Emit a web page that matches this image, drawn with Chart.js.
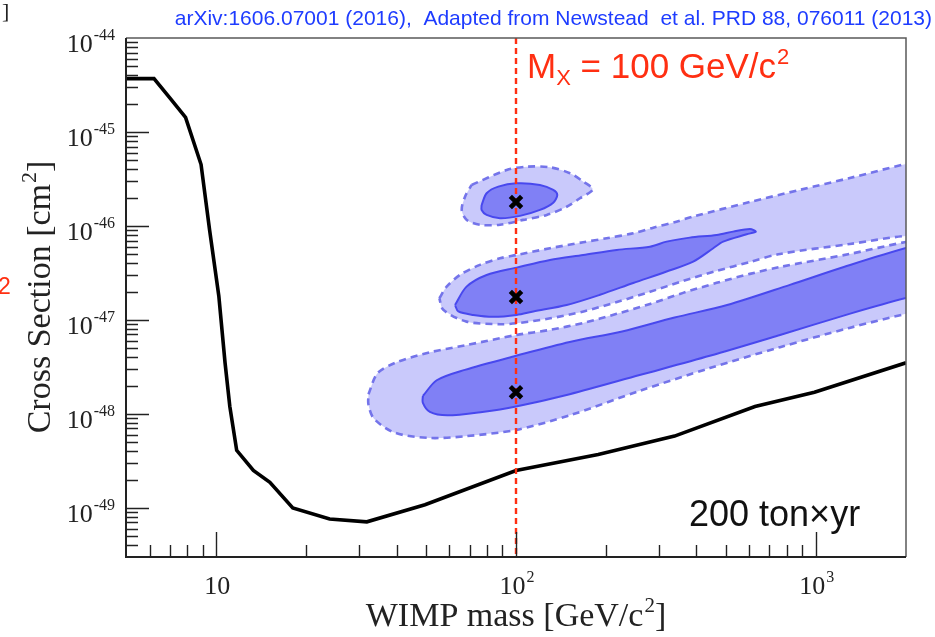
<!DOCTYPE html>
<html>
<head>
<meta charset="utf-8">
<script src="https://cdn.jsdelivr.net/npm/chart.js@4/dist/chart.umd.min.js"></script>
<style>
  html, body { margin: 0; padding: 0; background: #ffffff; }
  canvas { display: block; }
</style>
</head>
<body>
<canvas id="plot" width="935" height="637"></canvas>
<script>
// ---- Exclusion limit (black curve), WIMP mass [GeV/c^2] vs cross section [cm^2]
const limitMass  = [5, 6.2, 7.0, 7.9, 8.9, 9.5, 10.2, 10.7, 11.1, 11.7, 13.3, 15.1, 18.0, 23.9, 31.8, 49.7, 100, 188, 338, 627, 990, 2000];
const limitSigma = [3.7e-45, 3.7e-45, 2.3e-45, 1.43e-45, 4.5e-46, 9.1e-47, 1.8e-47, 3.5e-48, 1.2e-48, 4.1e-49, 2.5e-49, 1.87e-49, 1.0e-49, 7.6e-50, 7.1e-50, 1.08e-49, 2.5e-49, 3.7e-49, 5.8e-49, 1.2e-48, 1.7e-48, 3.5e-48];

// ---- Benchmark points (M_X = 100 GeV/c^2)
const benchMass  = [100, 100, 100];
const benchSigma = [1.8e-46, 1.75e-47, 1.7e-48];
const markerMass = 100;

// ---- Reconstructed regions: [mass, sigma] outlines (outer = dashed, inner = solid)
const highOuter = [[71.1,2.73e-46],[93.1,3.94e-46],[108.5,4.27e-46],[129.8,4.21e-46],[151.4,3.64e-46],[167.7,2.96e-46],[180.2,2.45e-46],[163.4,1.97e-46],[147.6,1.60e-46],[126.6,1.31e-46],[105.7,1.16e-46],[88.4,1.03e-46],[75.8,1.03e-46],[68.5,1.16e-46],[65.9,1.48e-46],[67.6,2.05e-46]];
const highInner = [[76.8,1.67e-46],[79.8,2.23e-46],[87.3,2.62e-46],[100.5,2.84e-46],[120.2,2.73e-46],[133.1,2.42e-46],[137.3,2.14e-46],[133.1,1.77e-46],[120.2,1.48e-46],[103.1,1.28e-46],[88.4,1.21e-46],[79.8,1.31e-46],[76.8,1.48e-46]];

const midOuter = [[55.5,1.70e-47],[58.7,2.26e-47],[65.0,3.01e-47],[75.8,3.85e-47],[88.4,4.53e-47],[100.5,4.91e-47],[129.8,5.79e-47],[167.6,6.71e-47],[200.6,7.40e-47],[246,8.36e-47],[287,9.59e-47],[343,1.11e-46],[390,1.26e-46],[603,1.8e-46],[885,2.42e-46],[1300,3.24e-46],[2000,4.57e-46],[2300,4.9e-46],
  [2300,7.5e-47],[2000,7.83e-47],[1300,6.43e-47],[760,5.04e-47],[603,4.14e-47],[467,3.32e-47],[361,2.60e-47],[280,1.99e-47],[217,1.55e-47],[168,1.23e-47],[130,1.04e-47],[100.5,9.22e-48],[88.4,9.0e-48],[68.4,9.59e-48],[57.2,1.28e-47]];
const midInner = [[62.6,1.44e-47],[68.4,2.26e-47],[79.8,3.01e-47],[100.5,3.60e-47],[129.8,4.35e-47],[167.6,4.91e-47],[216.7,5.56e-47],[279.8,6.02e-47],[318,6.81e-47],[380,7.51e-47],[467,8.02e-47],[530,8.70e-47],[603,9.29e-47],[631,8.70e-47],[588,8.16e-47],[491,6.81e-47],[455,5.79e-47],[390,4.17e-47],[318,3.27e-47],[246,2.47e-47],[190.6,1.85e-47],[147.6,1.44e-47],[114.2,1.23e-47],[100.5,1.13e-47],[84.0,1.08e-47],[72.0,1.13e-47],[64.2,1.23e-47]];

const lowOuter = [[32.2,1.62e-48],[34.5,2.70e-48],[39.5,3.49e-48],[51.6,4.52e-48],[67.5,5.35e-48],[100.5,6.92e-48],[129.8,7.83e-48],[167.6,9.29e-48],[216.7,1.16e-47],[280,1.48e-47],[361,1.94e-47],[467,2.48e-47],[603,3.09e-47],[760,3.66e-47],[1300,5.04e-47],[2000,6.76e-47],[2300,7.1e-47],
  [2300,1.25e-47],[2000,1.16e-47],[1295,8.22e-48],[760,5.13e-48],[443,3.07e-48],[258.5,1.76e-48],[151.1,9.66e-49],[100,6.76e-49],[67.5,5.78e-49],[51.6,5.54e-49],[39.5,6.29e-49],[33.6,8.87e-49],[32.2,1.25e-48]];
const lowInner = [[48.9,1.55e-48],[54.4,2.28e-48],[67.5,2.94e-48],[100,4.15e-48],[151.1,5.83e-48],[226,7.54e-48],[338,1.06e-47],[506,1.44e-47],[820,2.36e-47],[1240,3.66e-47],[2000,5.83e-47],[2300,6.2e-47],
  [2300,1.85e-47],[2000,1.71e-47],[1295,1.16e-47],[760,6.92e-48],[443,4.15e-48],[258.5,2.59e-48],[151.1,1.62e-48],[100,1.20e-48],[77.2,1.05e-48],[59.0,9.66e-49],[51.6,1.05e-48],[48.9,1.31e-48]];

// ---- Axis labels
const xTickValues = [10, 100, 1000];
const xTickLabels = [['10', ''], ['10', '2'], ['10', '3']];
const yTickValues = [1e-44, 1e-45, 1e-46, 1e-47, 1e-48, 1e-49];
const yTickLabels = [['10', '-44'], ['10', '-45'], ['10', '-46'], ['10', '-47'], ['10', '-48'], ['10', '-49']];
const xRange = [5, 2000];
const yRange = [3e-50, 1e-44];

// ---- Styles
const OUTER_FILL = '#c9c9fb';
const OUTER_EDGE = '#7474ea';
const INNER_FILL = '#8080f5';
const INNER_EDGE = '#4848ee';
const RED = '#ff2f12';
const SERIF = 'Liberation Serif';
const SANS = 'Liberation Sans';

const toPts = arr => arr.map(([x, y]) => ({ x, y }));
const closedPts = arr => { const p = toPts(arr); p.push({ ...p[0] }); return p; };

function region(arr, inner) {
  return {
    data: closedPts(arr),
    showLine: true,
    fill: 'shape',
    backgroundColor: inner ? INNER_FILL : OUTER_FILL,
    borderColor: inner ? INNER_EDGE : OUTER_EDGE,
    borderWidth: inner ? 2 : 2.6,
    borderDash: inner ? [] : [7, 5],
    tension: 0.3,
    pointRadius: 0,
    order: inner ? 3 : 4
  };
}

// Draws "base" with a raised exponent; align: left | center | right
function powText(ctx, base, exp, x, y, align, baseFont, expFont, rise, tail) {
  ctx.font = baseFont; const wb = ctx.measureText(base).width;
  ctx.font = expFont; const we = exp ? ctx.measureText(exp).width + 1 : 0;
  ctx.font = baseFont; const wt = tail ? ctx.measureText(tail).width : 0;
  const total = wb + we + wt;
  const x0 = align === 'right' ? x - total : align === 'center' ? x - total / 2 : x;
  ctx.textAlign = 'left';
  ctx.textBaseline = 'alphabetic';
  ctx.font = baseFont; ctx.fillText(base, x0, y);
  if (exp) { ctx.font = expFont; ctx.fillText(exp, x0 + wb + 1, y - rise); }
  if (tail) { ctx.font = baseFont; ctx.fillText(tail, x0 + wb + we, y); }
}

const framePlugin = {
  id: 'frame',
  afterDatasetsDraw(chart) {
    const ctx = chart.ctx;
    const xs = chart.scales.x, ys = chart.scales.y;
    const { left, right, top, bottom } = chart.chartArea;
    ctx.save();

    // box: light on top/right, dark axes on left/bottom
    ctx.strokeStyle = '#5a5a5a'; ctx.lineWidth = 1.5;
    ctx.beginPath(); ctx.moveTo(left, top); ctx.lineTo(right, top); ctx.lineTo(right, bottom); ctx.stroke();
    ctx.strokeStyle = '#222'; ctx.lineWidth = 2;
    ctx.beginPath(); ctx.moveTo(left, top); ctx.lineTo(left, bottom); ctx.lineTo(right, bottom); ctx.stroke();

    // inward tick marks (decades long, 2..9 short)
    ctx.lineWidth = 1.4; ctx.strokeStyle = '#222';
    ctx.beginPath();
    for (let e = 0; e <= 3; e++) {
      for (let k = 1; k <= 9; k++) {
        const v = k * Math.pow(10, e);
        if (v <= xs.min * 1.0001 || v >= xs.max) continue;
        const px = Math.round(xs.getPixelForValue(v)) + 0.5;
        const len = k === 1 ? 25 : 12;
        ctx.moveTo(px, bottom); ctx.lineTo(px, bottom - len);
      }
    }
    for (let e = -50; e <= -45; e++) {
      for (let k = 1; k <= 9; k++) {
        const v = k * Math.pow(10, e);
        if (v <= ys.min * 1.0001 || v > ys.max * 1.0001) continue;
        const py = Math.round(ys.getPixelForValue(v)) + 0.5;
        const len = k === 1 ? 23 : 12;
        ctx.moveTo(left, py); ctx.lineTo(left + len, py);
      }
    }
    ctx.stroke();

    // tick labels
    ctx.fillStyle = '#222';
    yTickValues.forEach((v, i) => {
      const py = ys.getPixelForValue(v);
      powText(ctx, yTickLabels[i][0], yTickLabels[i][1], 115, py + 14, 'right',
        `26px "${SERIF}"`, `16px "${SERIF}"`, 12);
    });
    xTickValues.forEach((v, i) => {
      const px = xs.getPixelForValue(v);
      powText(ctx, xTickLabels[i][0], xTickLabels[i][1], px + 1, 594, 'center',
        `26px "${SERIF}"`, `16px "${SERIF}"`, 12);
    });

    // axis titles
    powText(ctx, 'WIMP mass [GeV/c', '2', 516, 626, 'center', `34px "${SERIF}"`, `21px "${SERIF}"`, 14, ']');
    ctx.save();
    ctx.translate(50, 297);
    ctx.rotate(-Math.PI / 2);
    powText(ctx, 'Cross Section [cm', '2', 0, 0, 'center', `34px "${SERIF}"`, `22px "${SERIF}"`, 14, ']');
    ctx.restore();

    // annotations
    ctx.fillStyle = '#1e3cff';
    ctx.font = `21px "${SANS}"`;
    ctx.textAlign = 'right';
    ctx.fillText('arXiv:1606.07001 (2016),  Adapted from Newstead  et al. PRD 88, 076011 (2013)', 932, 25);

    ctx.fillStyle = RED;
    ctx.textAlign = 'left';
    let x = 527;
    ctx.font = `35px "${SANS}"`; ctx.fillText('M', x, 78); x += ctx.measureText('M').width;
    ctx.font = `22px "${SANS}"`; ctx.fillText('X', x, 85); x += ctx.measureText('X').width;
    ctx.font = `35px "${SANS}"`; ctx.fillText(' = 100 GeV/c', x, 78); x += ctx.measureText(' = 100 GeV/c').width;
    ctx.font = `22px "${SANS}"`; ctx.fillText('2', x + 1, 64);

    ctx.fillStyle = '#111';
    ctx.font = `36px "${SANS}"`;
    ctx.fillText('200 ton\u00d7yr', 689, 526);

    // stray marks at the page margin
    ctx.font = `22px "${SERIF}"`; ctx.fillStyle = '#222';
    ctx.fillText(']', 2, 18);
    ctx.font = `23px "${SANS}"`; ctx.fillStyle = RED;
    ctx.fillText('2', -2, 294);

    ctx.restore();
  }
};

new Chart(document.getElementById('plot'), {
  type: 'scatter',
  data: {
    datasets: [
      region(highOuter, false), region(highInner, true),
      region(midOuter, false), region(midInner, true),
      region(lowOuter, false), region(lowInner, true),
      {
        data: limitMass.map((m, i) => ({ x: m, y: limitSigma[i] })),
        showLine: true, borderColor: '#000', borderWidth: 3.6, pointRadius: 0,
        tension: 0, fill: false, order: 2
      },
      {
        data: [{ x: markerMass, y: yRange[1] }, { x: markerMass, y: yRange[0] }],
        showLine: true, borderColor: RED, borderWidth: 2.4, borderDash: [6, 4],
        pointRadius: 0, fill: false, order: 1
      },
      {
        data: benchMass.map((m, i) => ({ x: m, y: benchSigma[i] })),
        showLine: false, pointStyle: 'crossRot', pointRadius: 8,
        borderColor: '#000', borderWidth: 4.6, backgroundColor: '#000', order: 0
      }
    ]
  },
  options: {
    responsive: false,
    animation: false,
    devicePixelRatio: 1,
    events: [],
    layout: { padding: { left: 0, right: 29, top: 38, bottom: 0 } },
    plugins: { legend: { display: false }, tooltip: { enabled: false } },
    scales: {
      x: {
        type: 'logarithmic', min: xRange[0], max: xRange[1],
        grid: { display: false }, border: { display: false }, ticks: { display: false },
        afterFit(s) { s.height = 80; }
      },
      y: {
        type: 'logarithmic', min: yRange[0], max: yRange[1],
        grid: { display: false }, border: { display: false }, ticks: { display: false },
        afterFit(s) { s.width = 126; }
      }
    }
  },
  plugins: [framePlugin]
});
</script>
</body>
</html>
